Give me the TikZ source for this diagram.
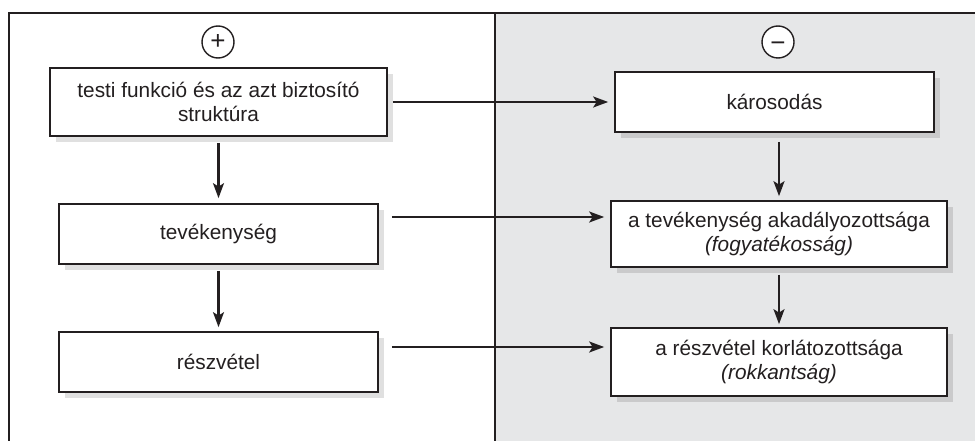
\documentclass[tikz,border=0pt]{standalone}
\usepackage{fontspec}
\setmainfont{Liberation Sans}
\usetikzlibrary{arrows.meta,shadows}
\definecolor{ink}{HTML}{231F20}
\definecolor{panel}{HTML}{E6E7E8}
\begin{document}
\begin{tikzpicture}[x=1pt,y=-1pt,
  every node/.style={font=\fontsize{20.8}{24.5}\selectfont, text=ink},
  stepbox/.style={draw=ink, line width=1.7pt, fill=white, align=center,
    inner sep=0pt, drop shadow={shadow xshift=6pt, shadow yshift=-6pt, fill=black, opacity=0.12}},
  sign/.style={draw=ink, circle, line width=1.4pt, fill=white, minimum size=32pt, inner sep=0pt,
    font=\fontsize{26}{26}\selectfont, text height=15pt, text depth=0pt},
  arr/.style={draw=ink, line width=2.3pt, -{Stealth[length=15pt,width=11pt,inset=3.5pt]}},
  frame/.style={draw=ink, line width=2.4pt}]
\useasboundingbox (0,0) rectangle (975,441);
\fill[white] (0,0) rectangle (975,441);
\fill[panel] (495,13) rectangle (975,441);
\draw[frame] (9,441) -- (9,13) -- (975,13);
\draw[frame] (495,13) -- (495,441);

\node[sign] (plus) at (218,42) {\smash{+}};
\node[sign] (minus) at (778,42) {\raisebox{-2pt}{\smash{−}}};

\node[stepbox, minimum width=337pt, minimum height=68pt] (func) at (218.5,102)
  {testi funkció és az azt biztosító\\struktúra};
\node[stepbox, minimum width=319pt, minimum height=60pt] (tev) at (218.5,234) {tevékenység};
\node[stepbox, minimum width=319pt, minimum height=60pt] (resz) at (218.5,362) {részvétel};

\node[stepbox, minimum width=319pt, minimum height=60pt] (karos) at (774.5,102) {károsodás};
\node[stepbox, minimum width=336pt, minimum height=66pt] (akad) at (779,234)
  {a tevékenység akadályozottsága\\\textit{(fogyatékosság)}};
\node[stepbox, minimum width=336pt, minimum height=68pt] (rokk) at (779,362)
  {a részvétel korlátozottsága\\\textit{(rokkantság)}};

\draw[arr, shorten <=5pt, shorten >=6pt] (func.east) -- (karos.west);
\draw[arr, shorten <=13pt, shorten >=6pt] ([yshift=17pt]tev.east) -- ([yshift=17pt]akad.west);
\draw[arr, shorten <=13pt, shorten >=6pt] ([yshift=15pt]resz.east) -- ([yshift=15pt]rokk.west);

\draw[arr, shorten <=6pt, shorten >=5pt] (func.south) -- (tev.north);
\draw[arr, shorten <=6pt, shorten >=4pt] (tev.south) -- (resz.north);
\draw[arr, shorten <=9pt, shorten >=4pt] (akad.north |- karos.south) -- (akad.north);
\draw[arr, shorten <=7pt, shorten >=3pt] (akad.south) -- (rokk.north);
\end{tikzpicture}
\end{document}
